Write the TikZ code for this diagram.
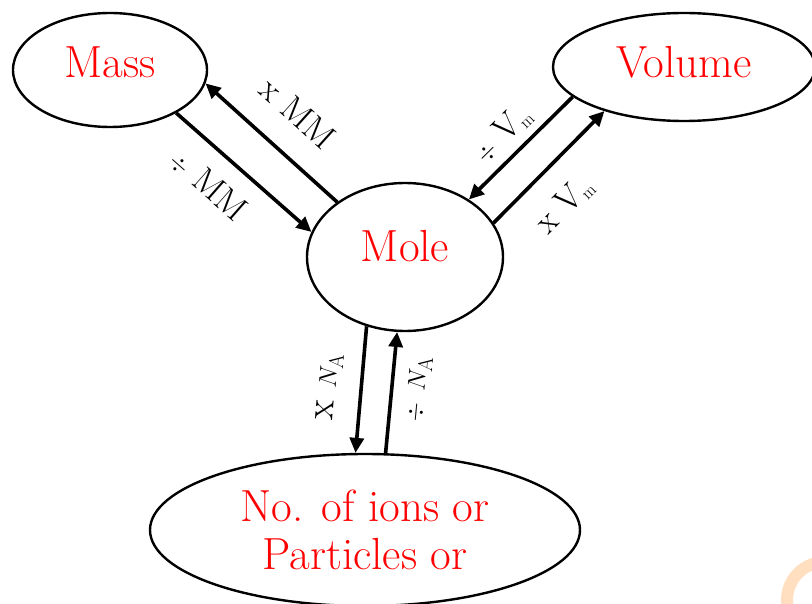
\documentclass[tikz,border=0pt]{standalone}
\usepackage{tikz}
\usetikzlibrary{arrows.meta,shapes.geometric}

\begin{document}
\begin{tikzpicture}[
  x=1pt, y=-1pt,
  quantity/.style={ellipse, draw, line width=2.4pt, inner sep=0pt, text=red,
                   font=\fontsize{45}{48}\selectfont, align=center},
  conn/.style={line width=3.6pt, -{Triangle[length=15pt,width=14pt]}},
  lbl/.style={font=\fontsize{35}{38}\selectfont, sloped},
]
\useasboundingbox (0,0) rectangle (812,604);
\clip (0,0) rectangle (812,604);
\node[quantity, minimum width=194pt, minimum height=114pt, text depth=16pt]
  (mass) at (110,70) {Mass};
\node[quantity, minimum width=262pt, minimum height=108pt, text depth=10pt]
  (vol) at (684,67) {Volume};
\node[quantity, minimum width=196pt, minimum height=148pt, text depth=22pt]
  (mole) at (405,257) {Mole};
\node[quantity, minimum width=430pt, minimum height=152pt]
  (part) at (365,530) {No. of ions or\\Particles or};
% conversions
\draw[conn] (mole.141) -- node[lbl, pos=0.5, above, inner sep=26pt] (xmm) {x MM} (mass.352);
\draw[conn] (mass.327) -- node[lbl, pos=0.4, below, inner sep=18pt] (dmm) {$\div$ MM} (mole.165);
\draw[conn] (vol.195) -- node[lbl, pos=0.52, above, inner sep=8pt] (dvm) {$\div$ V$_{\scriptscriptstyle\mathrm{m}}$} (mole.42);
\draw[conn] (mole.21) -- node[lbl, pos=0.4, below, inner sep=22pt] (xvm) {x V$_{\scriptscriptstyle\mathrm{m}}$} (vol.209);
\draw[conn] (mole.241) -- node[lbl, pos=0.5, above, inner sep=18pt, font=\fontsize{40}{42}\selectfont] (xna) {x $N_{\scriptscriptstyle\mathrm{A}}$} (part.97);
\draw[conn] (part.75) -- node[lbl, pos=0.55, below, inner sep=14pt, font=\fontsize{40}{42}\selectfont] (dna) {$\div$ $N_{\scriptscriptstyle\mathrm{A}}$} (mole.264);
\draw[orange!25, line width=12pt] (825,600) circle[radius=38];
\end{tikzpicture}
\end{document}
